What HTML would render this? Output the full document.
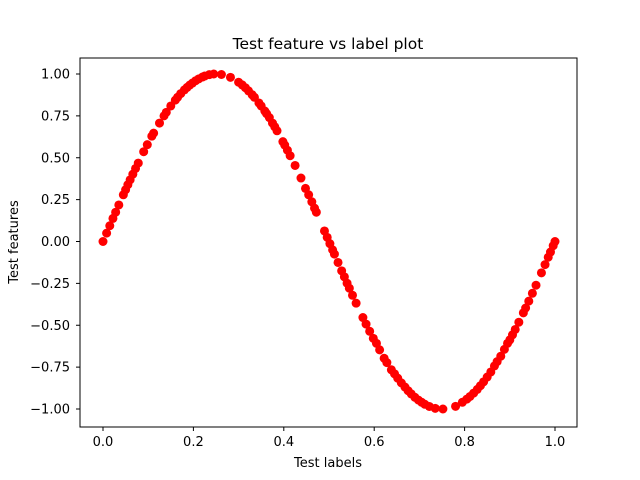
<!DOCTYPE html>
<html><head><meta charset="utf-8"><style>
body{margin:0;background:#fff}
svg{display:block;font-family:"DejaVu Sans","Liberation Sans",sans-serif}
</style></head><body>
<svg id="chart" width="640" height="480">
<rect width="640" height="480" fill="#fff"/>
<text x="328" y="49" text-anchor="middle" font-size="15.5">Test feature vs label plot</text>
<text x="328" y="467" text-anchor="middle" font-size="13">Test labels</text>
<text x="0" y="0" transform="translate(18,242) rotate(-90)" text-anchor="middle" font-size="13">Test features</text>
<g id="xticks"></g>
<g id="yticks"></g>
<g id="points"></g>
<rect x="80" y="58" width="497" height="369" fill="none" stroke="#000" stroke-width="1"/>
</svg>
<script>
const xTicks=[0,0.2,0.4,0.6,0.8,1.0];
const xTickLabels=["0.0","0.2","0.4","0.6","0.8","1.0"];
const yTicks=[-1,-0.75,-0.5,-0.25,0,0.25,0.5,0.75,1];
const yTickLabels=["−1.00","−0.75","−0.50","−0.25","0.00","0.25","0.50","0.75","1.00"];
const xs=[0.000,0.008,0.015,0.022,0.028,0.035,0.045,0.050,0.055,0.060,0.066,0.072,0.078,0.090,0.098,0.108,0.112,0.125,0.135,0.140,0.150,0.160,0.165,0.172,0.180,0.186,0.192,0.198,0.205,0.212,0.220,0.225,0.235,0.245,0.262,0.282,0.300,0.308,0.315,0.322,0.330,0.335,0.345,0.350,0.358,0.362,0.368,0.375,0.380,0.385,0.398,0.402,0.408,0.414,0.425,0.438,0.448,0.455,0.462,0.468,0.472,0.490,0.496,0.502,0.508,0.512,0.520,0.528,0.534,0.540,0.545,0.552,0.560,0.575,0.582,0.590,0.598,0.605,0.612,0.622,0.628,0.638,0.645,0.652,0.660,0.668,0.675,0.682,0.690,0.698,0.705,0.712,0.722,0.735,0.752,0.780,0.795,0.805,0.812,0.820,0.828,0.835,0.842,0.850,0.858,0.866,0.872,0.880,0.888,0.895,0.900,0.906,0.912,0.920,0.930,0.935,0.942,0.950,0.958,0.970,0.978,0.985,0.990,0.996,1.000];
const ys=[0.000,0.050,0.094,0.138,0.175,0.218,0.279,0.309,0.339,0.368,0.402,0.436,0.468,0.536,0.578,0.629,0.647,0.707,0.750,0.771,0.809,0.844,0.861,0.883,0.905,0.920,0.934,0.946,0.960,0.971,0.982,0.988,0.996,1.000,0.997,0.980,0.951,0.935,0.918,0.899,0.876,0.861,0.827,0.809,0.779,0.763,0.740,0.707,0.685,0.661,0.596,0.576,0.545,0.512,0.454,0.379,0.317,0.279,0.237,0.199,0.175,0.063,0.025,-0.013,-0.050,-0.075,-0.125,-0.175,-0.211,-0.249,-0.279,-0.321,-0.368,-0.454,-0.493,-0.536,-0.578,-0.608,-0.647,-0.697,-0.723,-0.766,-0.790,-0.816,-0.844,-0.869,-0.891,-0.910,-0.930,-0.947,-0.960,-0.972,-0.985,-0.996,-1.000,-0.984,-0.960,-0.941,-0.925,-0.905,-0.883,-0.861,-0.838,-0.809,-0.779,-0.743,-0.717,-0.685,-0.644,-0.608,-0.588,-0.557,-0.525,-0.482,-0.426,-0.397,-0.356,-0.309,-0.261,-0.187,-0.138,-0.094,-0.063,-0.025,0.000];
const NS="http://www.w3.org/2000/svg";
function sx(v){return 103+v*452;}
function sy(v){return 241.5-v*167.5;}
function mk(t,a){const e=document.createElementNS(NS,t);for(const k in a)e.setAttribute(k,a[k]);return e;}
const gx=document.getElementById('xticks'),gy=document.getElementById('yticks'),gp=document.getElementById('points');
xTicks.forEach((v,i)=>{
 const l=mk('line',{x1:sx(v),x2:sx(v),y1:427,y2:431,stroke:'#000'});
 
 
 gx.appendChild(l);
 const t=mk('text',{x:sx(v),y:446,'text-anchor':'middle','font-size':'13'});
 t.textContent=xTickLabels[i];
 
 
 gx.appendChild(t);
});
yTicks.forEach((v,i)=>{
 const l=mk('line',{x1:76,x2:80,y1:sy(v),y2:sy(v),stroke:'#000'});
 
 
 gy.appendChild(l);
 const t=mk('text',{x:70,y:sy(v)+4.5,'text-anchor':'end','font-size':'13'});
 t.textContent=yTickLabels[i];
 
 
 gy.appendChild(t);
});
xs.forEach((v,i)=>{
 const c=mk('circle',{cx:sx(v),cy:sy(ys[i]),r:4.5,fill:'#ff0000'});
 
 
 gp.appendChild(c);
});
</script>
</body></html>
